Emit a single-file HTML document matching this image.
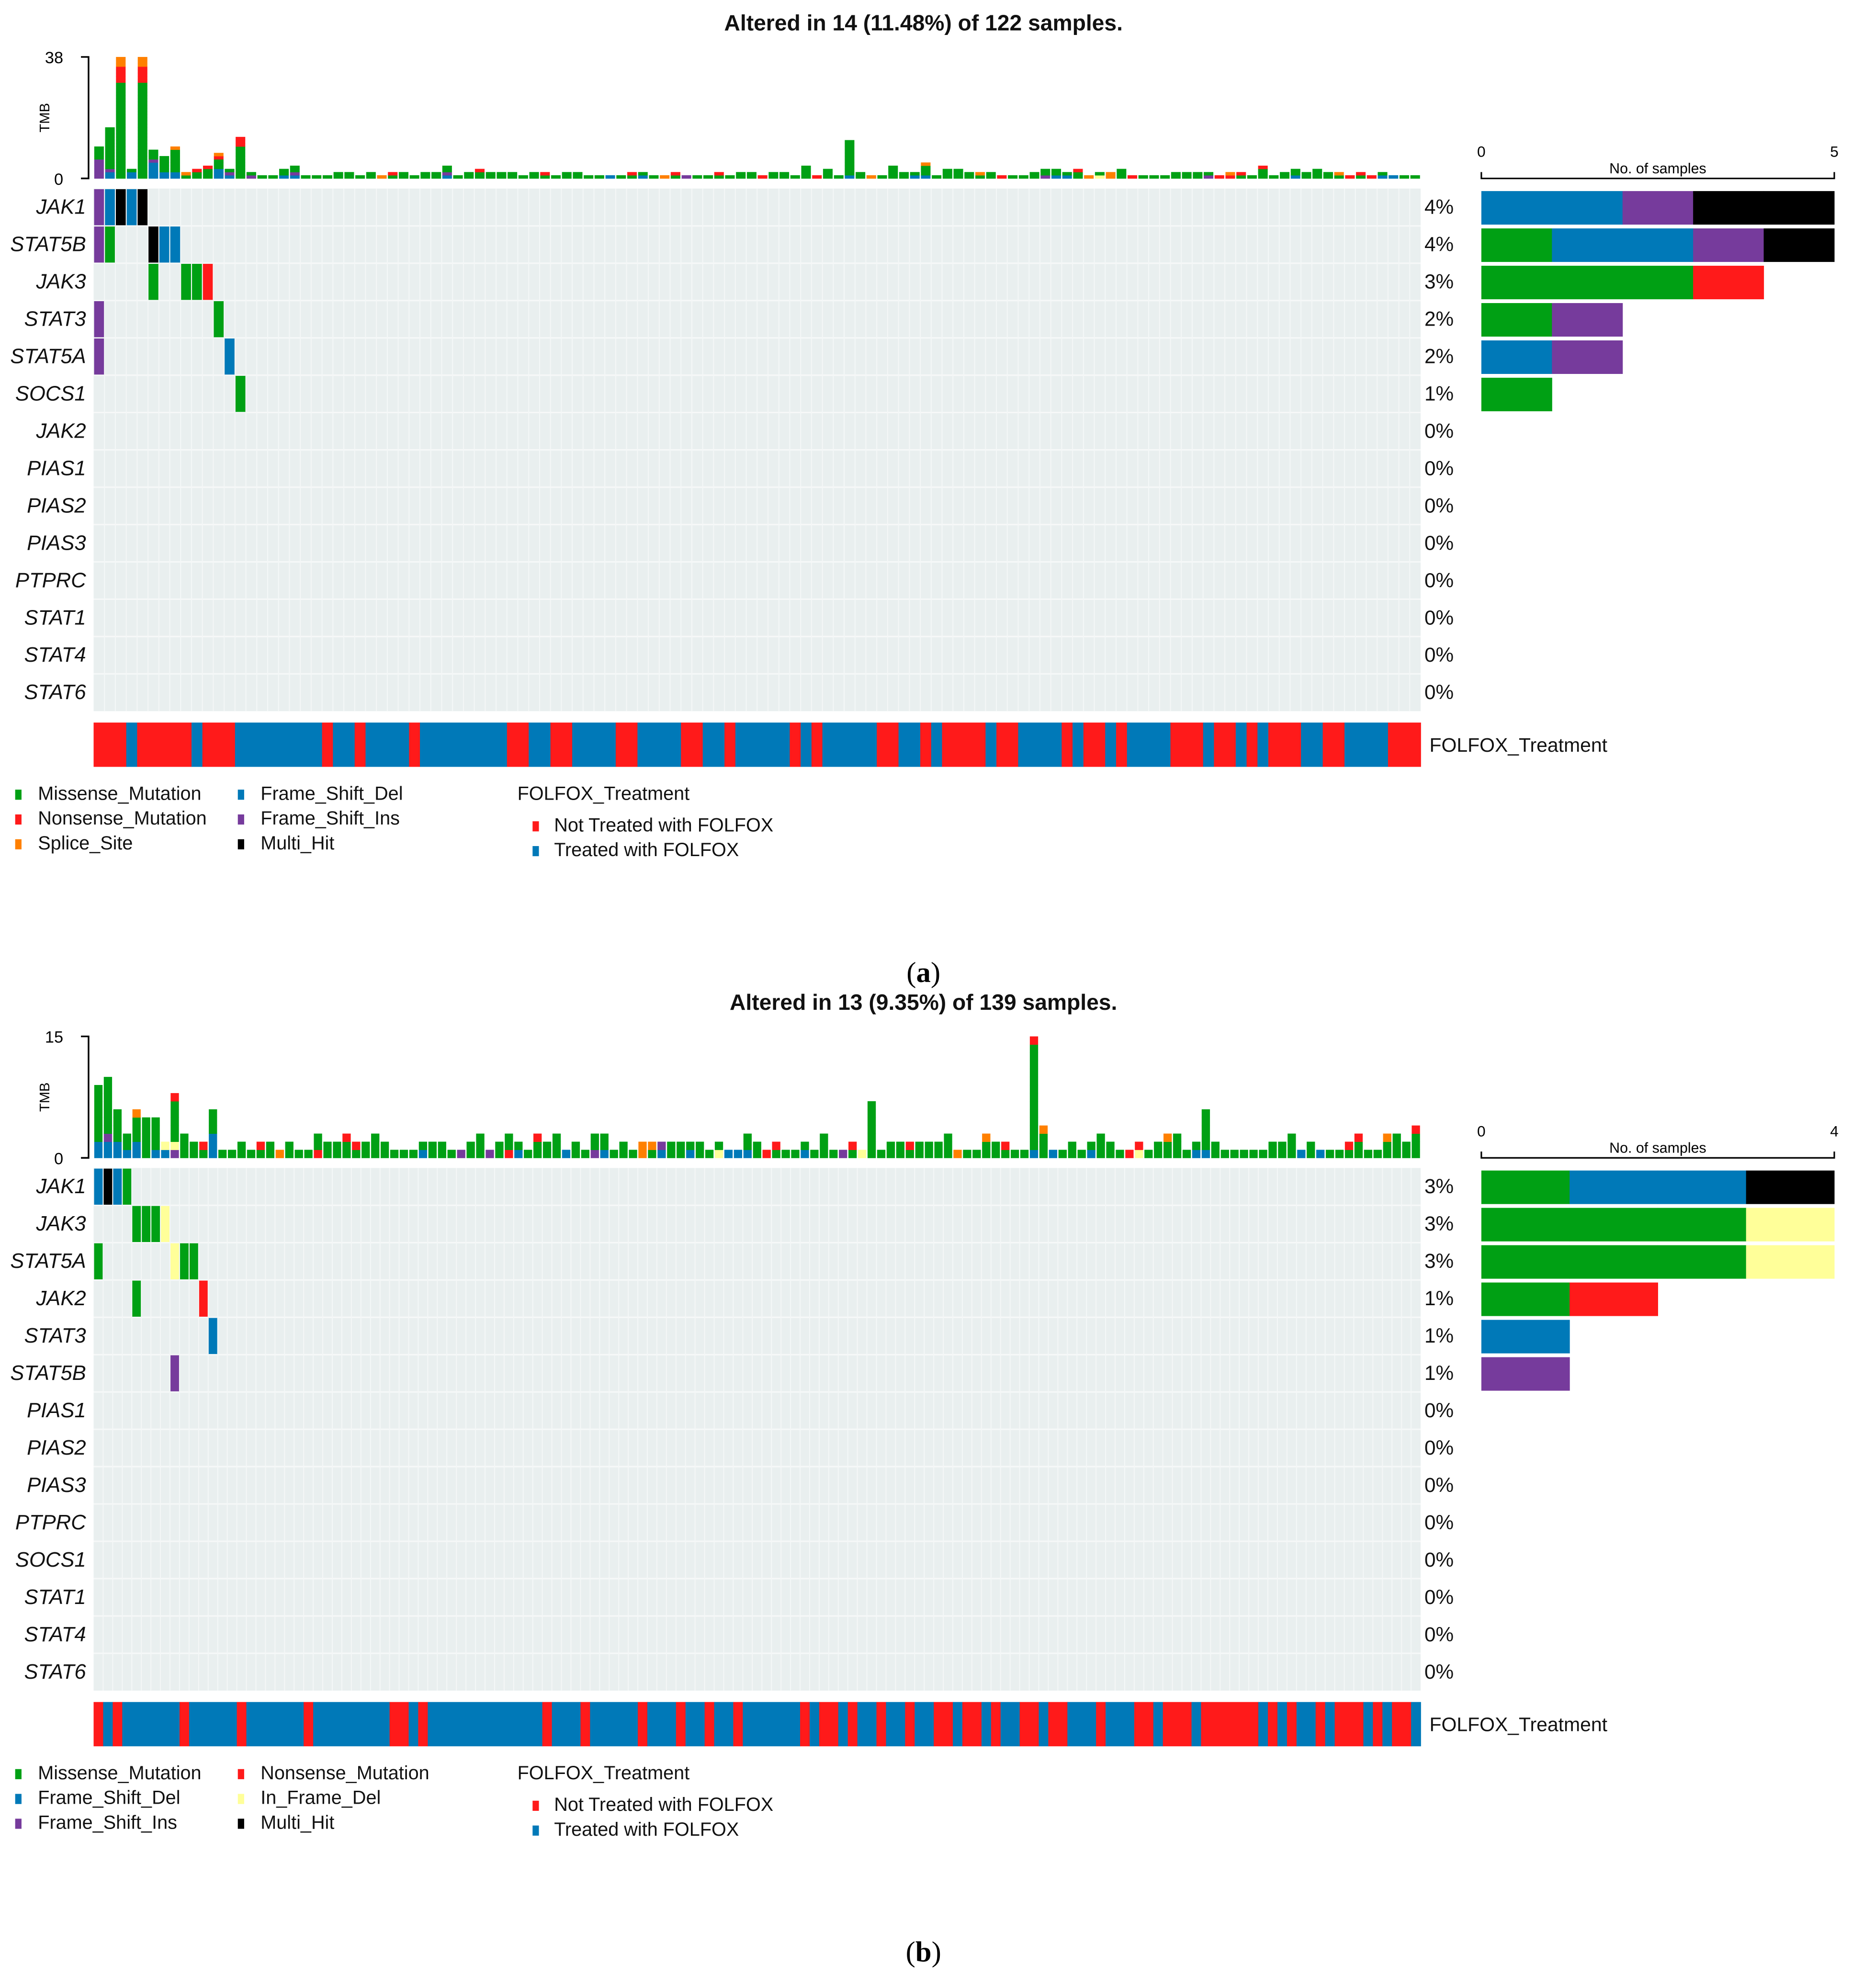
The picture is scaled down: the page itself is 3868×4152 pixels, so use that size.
<!DOCTYPE html>
<html><head><meta charset="utf-8"><style>
html,body{margin:0;padding:0;background:#fff;}
svg{display:block;}
text{font-family:"Liberation Sans",Arial,sans-serif;}
</style></head><body>
<svg id="fig" xmlns="http://www.w3.org/2000/svg" width="3868" height="4152" viewBox="0 0 1464 1571" preserveAspectRatio="none"></svg>
<script>
// ---------- DATA: panel (a) ----------
const genesA = ["JAK1","STAT5B","JAK3","STAT3","STAT5A","SOCS1","JAK2","PIAS1","PIAS2","PIAS3","PTPRC","STAT1","STAT4","STAT6"];
const pctA = ["4%","4%","3%","2%","2%","1%","0%","0%","0%","0%","0%","0%","0%","0%"];
const tmbA = ["PPPPPPGGGG","BBPGGGGGGGGGGGGG","GGGGGGGGGGGGGGGGGGGGGGGGGGGGGGRRRRROOO","BBG","GGGGGGGGGGGGGGGGGGGGGGGGGGGGGGRRRRROOO","BBBBBPGGG","BBGGGGG","BBGGGGGGGO","GO","GGR","GGGR","BBBGGGRO","BPG","GGGGGGGGGGRRR","PG","G","G","BGG","BPGG","G","G","G","GG","GG","G","GG","O","GR","GG","G","GG","GG","BPGG","G","GG","GGR","GG","GG","GG","G","GG","GR","G","GG","GG","G","G","B","G","GR","BG","G","O","GR","P","G","G","GR","G","GG","GG","R","GG","GG","G","GGGG","R","GGG","G","BGGGGGGGGGGG","GG","O","G","GGGG","GG","BG","BGGGO","G","GGG","GGG","GG","GO","GG","R","G","G","GG","PGG","BGG","BG","GGR","O","YG","OO","GGG","R","G","G","G","GG","GG","GG","PG","R","RO","GR","G","GGGR","G","GG","BGG","GG","GGG","GG","GO","R","GR","R","BG","B","G","G"];
const cellsA = [["JAK1",1,"P"],["JAK1",2,"B"],["JAK1",3,"K"],["JAK1",4,"B"],["JAK1",5,"K"],["STAT5B",1,"P"],["STAT5B",2,"G"],["STAT5B",6,"K"],["STAT5B",7,"B"],["STAT5B",8,"B"],["JAK3",6,"G"],["JAK3",9,"G"],["JAK3",10,"G"],["JAK3",11,"R"],["STAT3",1,"P"],["STAT3",12,"G"],["STAT5A",1,"P"],["STAT5A",13,"B"],["SOCS1",14,"G"]];
const countsA = [["JAK1","BBPKK"],["STAT5B","GBBPK"],["JAK3","GGGR"],["STAT3","GP"],["STAT5A","BP"],["SOCS1","G"]];
const treatA = [["N",3],["T",1],["N",5],["T",1],["N",3],["T",8],["N",1],["T",2],["N",1],["T",4],["N",1],["T",8],["N",2],["T",2],["N",2],["T",4],["N",2],["T",4],["N",2],["T",2],["N",1],["T",5],["N",1],["T",1],["N",1],["T",5],["N",2],["T",2],["N",1],["T",1],["N",4],["T",1],["N",2],["T",4],["N",1],["T",1],["N",2],["T",1],["N",1],["T",4],["N",3],["T",1],["N",2],["T",1],["N",1],["T",1],["N",3],["T",2],["N",2],["T",4],["N",3]];
// ---------- DATA: panel (b) ----------
const genesB = ["JAK1","JAK3","STAT5A","JAK2","STAT3","STAT5B","PIAS1","PIAS2","PIAS3","PTPRC","SOCS1","STAT1","STAT4","STAT6"];
const pctB = ["3%","3%","3%","1%","1%","1%","0%","0%","0%","0%","0%","0%","0%","0%"];
const tmbB = ["BBGGGGGGG","BBPGGGGGGG","BBGGGG","BGG","BBGGGO","GGGGG","BGGGG","BY","PYGGGGGR","GGG","GG","GR","BBBGGG","G","G","GG","G","GR","GG","O","GG","G","G","RGG","GG","GG","GGR","GR","GG","GGG","GG","G","G","G","BG","GG","GG","G","P","GG","GGG","P","GG","RGG","BG","G","GGR","GG","GGG","B","GG","G","PGG","BGG","G","GG","G","OO","GO","BP","GG","GG","BG","GG","G","YG","B","B","BGG","GG","R","GR","G","G","BG","G","GGG","G","P","GR","Y","GGGGGGG","G","GG","GG","GR","GG","GG","GG","GGG","O","G","G","GGO","GG","GR","G","G","BGGGGGGGGGGGGGR","GGGO","B","G","GG","G","BG","GGG","GG","G","R","YR","G","GG","GGO","GGG","G","BG","BGGGGG","GG","G","G","G","G","G","GG","GG","GGG","B","GG","B","G","G","GR","GGR","G","G","GGO","GGG","GG","GGGR"];
const cellsB = [["JAK1",1,"B"],["JAK1",2,"K"],["JAK1",3,"B"],["JAK1",4,"G"],["JAK3",5,"G"],["JAK3",6,"G"],["JAK3",7,"G"],["JAK3",8,"Y"],["STAT5A",1,"G"],["STAT5A",9,"Y"],["STAT5A",10,"G"],["STAT5A",11,"G"],["JAK2",5,"G"],["JAK2",12,"R"],["STAT3",13,"B"],["STAT5B",9,"P"]];
const countsB = [["JAK1","GBBK"],["JAK3","GGGY"],["STAT5A","GGGY"],["JAK2","GR"],["STAT3","B"],["STAT5B","P"]];
const treatB = [["N",1],["T",1],["N",1],["T",6],["N",1],["T",5],["N",1],["T",6],["N",1],["T",8],["N",2],["T",1],["N",1],["T",12],["N",1],["T",3],["N",1],["T",5],["N",1],["T",3],["N",1],["T",2],["N",1],["T",2],["N",1],["T",6],["N",1],["T",1],["N",2],["T",1],["N",1],["T",2],["N",1],["T",2],["N",1],["T",2],["N",2],["T",1],["N",2],["T",1],["N",1],["T",2],["N",2],["T",1],["N",2],["T",3],["N",1],["T",3],["N",2],["T",1],["N",3],["T",1],["N",6],["T",1],["N",1],["T",1],["N",1],["T",2],["N",1],["T",1],["N",3],["T",1],["N",1],["T",1],["N",2],["T",1]];

const COL = {G:"#00a014",R:"#ff1a1a",O:"#ff8000",B:"#0079b8",P:"#763b9c",K:"#000000",Y:"#ffff99",N:"#ff1a1a",T:"#0079b8"};
const svg = document.getElementById('fig');
const NS = "http://www.w3.org/2000/svg";
function el(tag, attrs, parent){const e=document.createElementNS(NS,tag);for(const k in attrs)e.setAttribute(k,attrs[k]);(parent||svg).appendChild(e);return e;}
function txt(s, attrs, parent){const e=el('text',attrs,parent);e.textContent=s;return e;}

function panel(o){
  const g = el('g',{});
  
  
  const X0=74, X1=1123, N=o.tmb.length, cw=(X1-X0)/N;
  const xs = i => X0 + i*cw;
  const Y=o.y;
  const tmbBase = Y-8, tmbTop = Y-104;
  const yT = v => tmbBase - (v/o.tmbMax)*(tmbBase-tmbTop);
  const t = txt(o.title,{x:730,y:Y-125,'text-anchor':'middle','font-size':17.5,'font-weight':'bold',fill:'#111'},g);
  
  
  const ax = el('path',{d:`M64 ${yT(o.tmbMax)} H70 V${tmbBase} H64`,stroke:'#000','stroke-width':1.3,fill:'none'},g);
  
  
  txt(String(o.tmbMax),{x:50,y:yT(o.tmbMax)+5,'text-anchor':'end','font-size':13},g);
  txt("0",{x:50,y:tmbBase+5,'text-anchor':'end','font-size':13},g);
  const tl = txt("TMB",{transform:`translate(39 ${(tmbBase+tmbTop)/2}) rotate(-90)`,'text-anchor':'middle','font-size':11},g);
  
  
  o.tmb.forEach((s,i)=>{
    for(let k=0;k<s.length;k++){
      const r = el('rect',{x:xs(i)+0.5,y:yT(k+1),width:cw-1,height:yT(k)-yT(k+1)+0.2,fill:COL[s[k]]},g);
      
      
    }
  });
  const rh=29.5;
  el('rect',{x:X0,y:Y,width:X1-X0,height:rh*14,fill:'#e9efef'},g);
  o.genes.forEach((gn,r)=>{
    const gy=Y+r*rh;
    const lab = txt(gn,{x:68,y:gy+20,'text-anchor':'end','font-size':16.5,'font-style':'italic',fill:'#111'},g);
    
    
    const pc = txt(o.pct[r],{x:1126,y:gy+20,'font-size':16,fill:'#111'},g);
    
    
    if(r>0) el('line',{x1:X0,x2:X1,y1:gy,y2:gy,stroke:'#f6f8f8','stroke-width':1.2},g);
  });
  for(let i=1;i<N;i++) el('line',{x1:xs(i),x2:xs(i),y1:Y,y2:Y+rh*14,stroke:'#f4f7f7','stroke-width':0.8},g);
  o.cells.forEach(c=>{
    const r=o.genes.indexOf(c[0]);
    const cell = el('rect',{x:xs(c[1]-1)+0.4,y:Y+r*rh+0.5,width:cw-0.8,height:rh-1,fill:COL[c[2]]},g);
    
    
  });
  let idx=0; const ty=Y+rh*14+9;
  o.treat.forEach(([c,n])=>{
    const tr = el('rect',{x:xs(idx),y:ty,width:cw*n+0.3,height:35,fill:COL[c]},g);
    
    
    idx+=n;
  });
  txt("FOLFOX_Treatment",{x:1130,y:ty+23,'font-size':15.5,fill:'#111'},g);
  const RX0=1171, RX1=1450, xr=v=>RX0+(v/o.cMax)*(RX1-RX0);
  const ay=Y-8;
  const rax = el('path',{d:`M${RX0} ${ay-5} V${ay} H${RX1} V${ay-5}`,stroke:'#000','stroke-width':1.2,fill:'none'},g);
  
  
  txt("0",{x:RX0,y:ay-17,'text-anchor':'middle','font-size':12},g);
  txt(String(o.cMax),{x:RX1,y:ay-17,'text-anchor':'middle','font-size':12},g);
  txt("No. of samples",{x:(RX0+RX1)/2,y:ay-4,'text-anchor':'middle','font-size':11.5},g);
  o.counts.forEach(([gn,s])=>{
    const r=o.genes.indexOf(gn);
    for(let k=0;k<s.length;k++){
      const b = el('rect',{x:xr(k),y:Y+r*rh+2,width:xr(k+1)-xr(k)+0.2,height:rh-3,fill:COL[s[k]]},g);
      
      
    }
  });
  const ly=Y+rh*14+69;
  o.legend.forEach((it,i)=>{
    const col=Math.floor(i/3), row=i%3;
    const lx=col?188:12, yy=ly+row*19.6;
    el('rect',{x:lx,y:yy-7,width:5,height:8,fill:COL[it[1]]},g);
    const lt = txt(it[0],{x:lx+18,y:yy+1,'font-size':15,fill:'#111'},g);
    
    
  });
  txt("FOLFOX_Treatment",{x:409,y:ly+1,'font-size':15,fill:'#111'},g);
  [["Not Treated with FOLFOX","N"],["Treated with FOLFOX","T"]].forEach((it,i)=>{
    const yy=ly+25+i*19.6;
    el('rect',{x:421,y:yy-7,width:5,height:8,fill:COL[it[1]]},g);
    const lt = txt(it[0],{x:438,y:yy+1,'font-size':15,fill:'#111'},g);
    
    
  });
  const sl = el('text',{x:730,y:Y+627,'text-anchor':'middle','font-size':23,style:'font-family:"Liberation Serif",serif'},g);
  sl.innerHTML = '(<tspan font-weight="bold">'+o.tag+'</tspan>)';
  
  
}

panel({name:'panel-a',y:149,title:"Altered in 14 (11.48%) of 122 samples.",tmb:tmbA,tmbMax:38,genes:genesA,pct:pctA,cells:cellsA,counts:countsA,cMax:5,treat:treatA,tag:'a',
  legend:[["Missense_Mutation","G"],["Nonsense_Mutation","R"],["Splice_Site","O"],["Frame_Shift_Del","B"],["Frame_Shift_Ins","P"],["Multi_Hit","K"]]});
panel({name:'panel-b',y:923,title:"Altered in 13 (9.35%) of 139 samples.",tmb:tmbB,tmbMax:15,genes:genesB,pct:pctB,cells:cellsB,counts:countsB,cMax:4,treat:treatB,tag:'b',
  legend:[["Missense_Mutation","G"],["Frame_Shift_Del","B"],["Frame_Shift_Ins","P"],["Nonsense_Mutation","R"],["In_Frame_Del","Y"],["Multi_Hit","K"]]});
</script>
</body></html>
